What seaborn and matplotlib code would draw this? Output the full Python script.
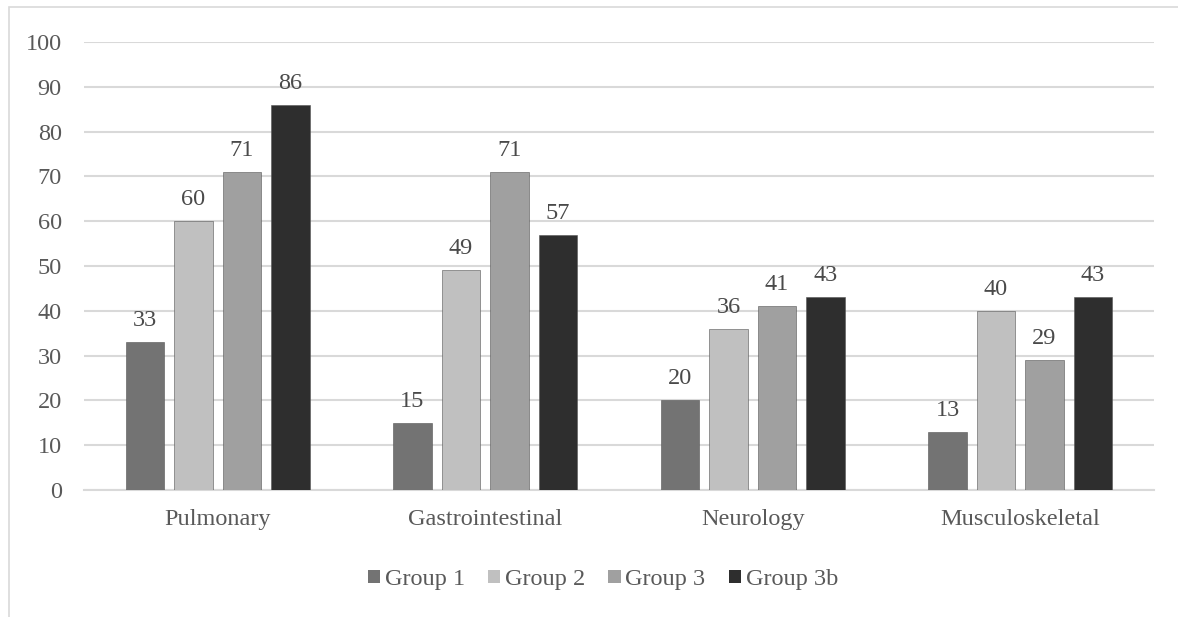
import matplotlib
matplotlib.use("Agg")
import matplotlib.pyplot as plt
import seaborn as sns
import pandas as pd
from matplotlib.patches import Rectangle

categories = ["Pulmonary", "Gastrointestinal", "Neurology", "Musculoskeletal"]
groups = ["Group 1", "Group 2", "Group 3", "Group 3b"]
group1 = [33, 15, 20, 13]
group2 = [60, 49, 36, 40]
group3 = [71, 71, 41, 29]
group3b = [86, 57, 43, 43]
y_ticks = [0, 10, 20, 30, 40, 50, 60, 70, 80, 90, 100]

colors = ["#737373", "#c0c0c0", "#a0a0a0", "#2e2e2e"]
text_color = "#595959"
grid_color = "#d9d9d9"
font_size = 17.5

rows = []
for g, vals in zip(groups, [group1, group2, group3, group3b]):
    for c, v in zip(categories, vals):
        rows.append({"category": c, "group": g, "value": v})
df = pd.DataFrame(rows)

sns.set_theme(style="white")
plt.rcParams["font.family"] = ["Liberation Serif", "DejaVu Serif"]

fig = plt.figure(figsize=(11.78, 6.17), dpi=100)
ax = fig.add_axes([0.0713, 0.2058, 0.9083, 0.7262])

sns.barplot(data=df, x="category", y="value", hue="group", order=categories,
            hue_order=groups, palette=colors, width=0.725, gap=0.2,
            saturation=1, ax=ax, errorbar=None, zorder=3)

for container in ax.containers:
    for patch in container:
        patch.set_edgecolor("#555555")
        patch.set_linewidth(0.4)
    ax.bar_label(container, padding=8, fontsize=font_size, color="#4a4a4a")

ax.set_ylim(0, 100)
ax.set_xlim(-0.5, 3.5)
ax.set_yticks(y_ticks)
ax.set_yticklabels([str(t) for t in y_ticks])
ax.yaxis.grid(True, color=grid_color, linewidth=1.5, zorder=0)
ax.set_axisbelow(True)
for side in ["top", "right", "left"]:
    ax.spines[side].set_visible(False)
ax.spines["bottom"].set_color(grid_color)
ax.spines["bottom"].set_linewidth(1.5)
ax.tick_params(axis="both", length=0, labelsize=font_size, labelcolor=text_color)
ax.tick_params(axis="y", pad=16)
ax.tick_params(axis="x", pad=14)
ax.set_xlabel("")
ax.set_ylabel("")

leg = ax.legend(loc="center", bbox_to_anchor=(0.485, -0.2), ncol=4, frameon=False,
                fontsize=font_size, handlelength=0.5, handleheight=0.5,
                handletextpad=0.2, columnspacing=0.95, labelcolor=text_color)
for h in leg.legend_handles:
    h.set_edgecolor("none")

fig.patches.append(Rectangle((9 / 1178, -0.1), 1.2, 1 - 7 / 617 + 0.1,
                             transform=fig.transFigure, fill=False,
                             edgecolor=grid_color, linewidth=1.2))

fig.savefig("out.png", dpi=100, facecolor="white")
